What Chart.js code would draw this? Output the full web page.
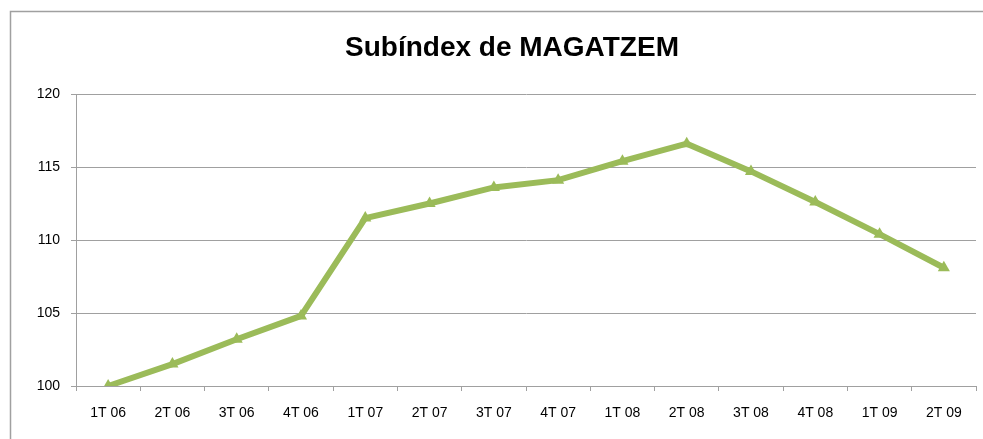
<!DOCTYPE html>
<html>
<head>
<meta charset="utf-8">
<script src="https://cdn.jsdelivr.net/npm/chart.js@4/dist/chart.umd.min.js"></script>
<style>
  html, body { margin: 0; padding: 0; background: #fff; }
  #wrap { width: 983px; height: 439px; position: relative; }
</style>
</head>
<body>
<div id="wrap"><canvas id="magatzemChart" width="983" height="439"></canvas></div>
<script>
let quarters = ['1T 06', '2T 06', '3T 06', '4T 06', '1T 07', '2T 07', '3T 07',
  '4T 07', '1T 08', '2T 08', '3T 08', '4T 08', '1T 09', '2T 09'];
let subindex = [100.0, 101.5, 103.2, 104.8, 111.5, 112.5, 113.6,
  114.1, 115.4, 116.6, 114.7, 112.6, 110.4, 108.1];
let yTicks = [100, 105, 110, 115, 120];
let chartTitle = 'Subíndex de MAGATZEM';

let green = '#9bbb59';
let gray = '#a0a0a0';
let fontFamily = 'Liberation Sans, Arial, sans-serif';

// outer frame and title, placed like the spreadsheet chart
let frame = {
  id: 'frame',
  beforeDraw: (chart) => {
    let ctx = chart.ctx;
    ctx.save();
    ctx.strokeStyle = gray;
    ctx.lineWidth = 1.5;
    ctx.strokeRect(10.5, 11.5, 1100, 1100);
    ctx.fillStyle = '#000';
    ctx.font = 'bold 28px ' + fontFamily;
    ctx.textAlign = 'center';
    ctx.textBaseline = 'alphabetic';
    ctx.fillText(chartTitle, 512, 56);
    ctx.restore();
  },
};

let ctx = document.getElementById('magatzemChart').getContext('2d');

new Chart(ctx, {
  type: 'line',
  data: {
    labels: quarters,
    datasets: [
      {
        label: chartTitle,
        data: subindex,
        borderColor: green,
        backgroundColor: green,
        borderWidth: 6,
        fill: false,
        tension: 0,
        pointStyle: 'triangle',
        pointRadius: 7,
        pointBorderWidth: 0,
        pointBackgroundColor: green,
      },
    ],
  },
  options: {
    responsive: false,
    animation: false,
    layout: {
      padding: { top: 94, left: 0, right: 5, bottom: 0 },
    },
    plugins: {
      legend: { display: false },
      tooltip: { enabled: false },
      title: { display: false },
    },
    scales: {
      x: {
        offset: true,
        grid: {
          offset: true,
          drawOnChartArea: false,
          drawTicks: true,
          tickLength: 5,
          color: gray,
        },
        border: { display: true, color: gray, width: 1 },
        ticks: {
          color: '#000',
          padding: 14,
          maxRotation: 0,
          font: { family: fontFamily, size: 14 },
        },
        afterFit: (scale) => {
          scale.height = 53;
        },
      },
      y: {
        min: 100,
        max: 120,
        afterBuildTicks: (scale) => {
          scale.ticks = yTicks.map((v) => ({ value: v }));
        },
        grid: {
          color: gray,
          drawTicks: true,
          tickLength: 5,
        },
        border: { display: true, color: gray, width: 1 },
        ticks: {
          color: '#000',
          padding: 11,
          font: { family: fontFamily, size: 14 },
        },
        afterFit: (scale) => {
          scale.width = 76;
        },
      },
    },
  },
  plugins: [frame],
});
</script>
</body>
</html>
